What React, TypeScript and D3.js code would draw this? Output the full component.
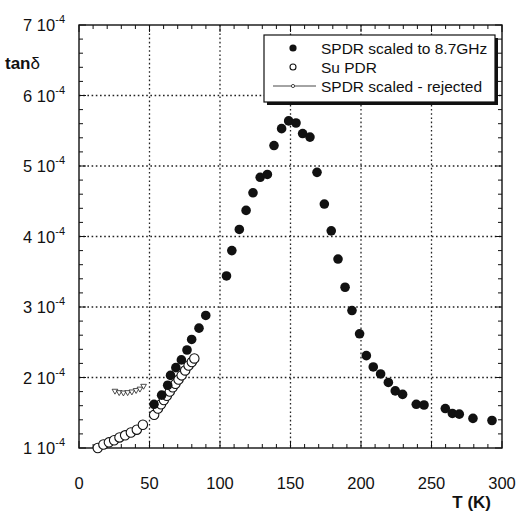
import React from 'react';
import * as d3 from 'd3';

// T (K) and tan delta (in units of 1e-4)
const spdrT = [53.2, 58.6, 62.9, 64.9, 68.7, 72.6, 76.6, 79.9, 85.1, 89.9,
	104.6, 108.4, 113.7, 118.5, 123.4, 128.5, 133.6, 138.3, 143.7, 148.7,
	153.9, 158.6, 163.8, 168.8, 174.0, 178.9, 183.7, 188.7, 193.6, 199.0,
	203.8, 208.7, 213.9, 219.4, 224.3, 229.5, 239.2, 244.7, 259.8, 264.8,
	269.7, 279.4, 292.9];
const spdrTan = [1.62, 1.75, 1.89, 2.03, 2.14, 2.25, 2.39, 2.54, 2.70, 2.88,
	3.44, 3.80, 4.10, 4.37, 4.62, 4.84, 4.88, 5.29, 5.53, 5.64,
	5.61, 5.46, 5.41, 4.91, 4.46, 4.08, 3.68, 3.28, 2.95, 2.62,
	2.31, 2.15, 2.05, 1.93, 1.81, 1.76, 1.62, 1.61, 1.56, 1.49,
	1.48, 1.42, 1.39];

const suT = [13.3, 17.3, 21.2, 24.9, 28.7, 32.7, 36.8, 41.0, 45.3,
	53.3, 56.0, 58.2, 60.2, 62.3, 64.4, 66.5, 68.4, 70.6, 72.8, 75.3, 77.7, 80.0, 81.8];
const suTan = [1.00, 1.05, 1.08, 1.11, 1.15, 1.18, 1.22, 1.26, 1.33,
	1.47, 1.56, 1.62, 1.68, 1.74, 1.80, 1.86, 1.91, 1.97, 2.03, 2.10, 2.17, 2.22, 2.27];

const rejT = [25.5, 28.5, 31.5, 34.5, 37.5, 40.5, 43.2, 45.8];
const rejTan = [1.81, 1.79, 1.785, 1.79, 1.80, 1.82, 1.84, 1.88];

const xTicks = [0, 50, 100, 150, 200, 250, 300];
const yTicks = [1, 2, 3, 4, 5, 6, 7];
const legendLabels = ['SPDR scaled to 8.7GHz', 'Su PDR', 'SPDR scaled - rejected'];

const W = 524, H = 515;
const L = 79, R = 502, T = 25, B = 448;
const font = '"Liberation Sans", Arial, sans-serif';

function App() {
	const x = d3.scaleLinear().domain([0, 300]).range([L, R]);
	const y = d3.scaleLinear().domain([1, 7]).range([B, T]);
	const minorX = x.ticks(30);
	const minorY = y.ticks(30);
	const gridX = xTicks.slice(1, -1);
	const gridY = yTicks.slice(1, -1);
	const rejLine = d3.line<number>().x((d, i) => x(rejT[i])).y((d) => y(d));
	const tri = d3.symbol().type(d3.symbolTriangle).size(14)();

	return (
		<svg width={W} height={H} style={{position: 'absolute', left: 0, top: 0, background: '#fff'}}>
			<rect x={0} y={0} width={W} height={H} fill="#fff" />
			{/* grid */}
			{gridX.map((d) => (
				<line key={'gx' + d} x1={x(d)} x2={x(d)} y1={T} y2={B} stroke="#222" strokeWidth={1.3} strokeDasharray="1.6,2.6" />
			))}
			{gridY.map((d) => (
				<line key={'gy' + d} x1={L} x2={R} y1={y(d)} y2={y(d)} stroke="#222" strokeWidth={1.3} strokeDasharray="1.6,2.6" />
			))}
			{/* ticks */}
			{minorX.map((d) => {
				const len = d % 50 === 0 ? 7 : 4;
				return (<g key={'tx' + d}>
					<line x1={x(d)} x2={x(d)} y1={B} y2={B - len} stroke="#111" strokeWidth={1} />
					<line x1={x(d)} x2={x(d)} y1={T} y2={T + len} stroke="#111" strokeWidth={1} />
				</g>);
			})}
			{minorY.map((d, i) => {
				const len = Math.abs(d - Math.round(d)) < 1e-6 ? 7 : 4;
				return (<g key={'ty' + i}>
					<line x1={L} x2={L + len} y1={y(d)} y2={y(d)} stroke="#111" strokeWidth={1} />
					<line x1={R} x2={R - len} y1={y(d)} y2={y(d)} stroke="#111" strokeWidth={1} />
				</g>);
			})}
			<rect x={L} y={T} width={R - L} height={B - T} fill="none" stroke="#111" strokeWidth={1.4} />

			{/* tick labels */}
			{xTicks.map((d) => (
				<text key={'lx' + d} x={x(d)} y={489} textAnchor="middle" fontFamily={font} fontSize={16.5} fill="#111">{d}</text>
			))}
			{yTicks.map((d) => (
				<text key={'ly' + d} x={65} y={y(d) + 6} textAnchor="end" fontFamily={font} fontSize={16.5} fill="#111">
					{d} 10<tspan fontSize={11} dy={-8}>-4</tspan>
				</text>
			))}
			<text x={5} y={69} fontFamily={font} fontSize={17} fontWeight="bold" fill="#111">tan<tspan fontWeight="normal">δ</tspan></text>
			<text x={491} y={508} textAnchor="end" fontFamily={font} fontSize={17} fontWeight="bold" fill="#111">T (K)</text>

			{/* rejected */}
			<path d={rejLine(rejTan) || ''} fill="none" stroke="#333" strokeWidth={0.8} />
			{rejTan.map((d, i) => (
				<path key={'r' + i} d={tri} transform={`translate(${x(rejT[i])},${y(d)}) rotate(180)`} fill="#fff" stroke="#222" strokeWidth={0.8} />
			))}
			{/* Su PDR */}
			{suTan.map((d, i) => (
				<circle key={'s' + i} cx={x(suT[i])} cy={y(d)} r={4.7} fill="#fff" stroke="#111" strokeWidth={1.1} />
			))}
			{/* SPDR */}
			{spdrTan.map((d, i) => (
				<circle key={'p' + i} cx={x(spdrT[i])} cy={y(d)} r={4.8} fill="#111" />
			))}

			{/* legend */}
			<rect x={267} y={38} width={231} height={67} fill="#111" />
			<rect x={264} y={35} width={231} height={67} fill="#fff" stroke="#111" strokeWidth={1.2} />
			<circle cx={293} cy={48} r={3.6} fill="#111" />
			<circle cx={293} cy={67} r={3} fill="#fff" stroke="#111" strokeWidth={1.1} />
			<line x1={273} x2={316} y1={86} y2={86} stroke="#333" strokeWidth={0.9} />
			<circle cx={293} cy={86} r={1.6} fill="#fff" stroke="#222" strokeWidth={0.8} />
			{legendLabels.map((t, i) => (
				<text key={t} x={321} y={54 + i * 19} fontFamily={font} fontSize={15.5} fill="#111">{t}</text>
			))}
		</svg>
	);
}

export default App;
